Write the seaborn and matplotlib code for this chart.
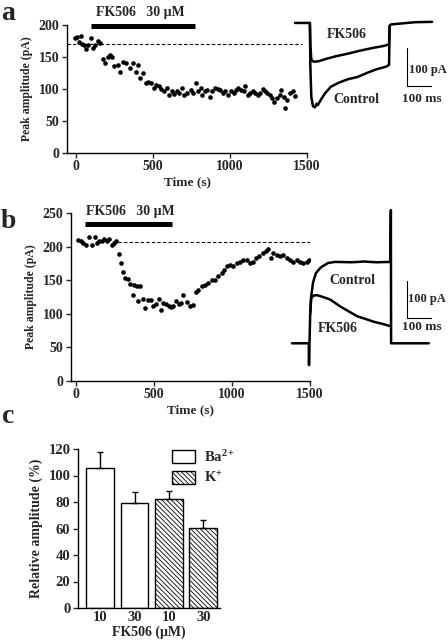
import numpy as np
import pandas as pd
import seaborn as sns
import matplotlib
matplotlib.use('Agg')
import matplotlib.pyplot as plt
from matplotlib.patches import Patch

sns.set_style("ticks")
plt.rcParams['font.family'] = ['Liberation Serif', 'DejaVu Serif']
plt.rcParams['font.weight'] = 'bold'
plt.rcParams['axes.labelweight'] = 'bold'
plt.rcParams['mathtext.fontset'] = 'custom'
plt.rcParams['mathtext.rm'] = 'Liberation Serif:bold'
plt.rcParams['mathtext.bf'] = 'Liberation Serif:bold'
plt.rcParams['mathtext.it'] = 'Liberation Serif:bold:italic'
plt.rcParams['hatch.linewidth'] = 0.6

# ---- panel a: peak amplitude vs time ----
a_time = [-8, 4, 17, 33, 39, 54, 65, 76, 98, 109, 126, 141, 157,
          174, 191, 207, 224, 235, 250, 272, 288, 305, 327, 349, 370, 388, 403,
          418, 435, 452, 468, 490, 505, 523, 540, 555, 571, 588, 606, 621, 636,
          654, 671, 686, 702, 724, 745, 762, 778, 793, 810, 821, 836, 854, 871,
          886, 902, 919, 937, 952, 967, 985, 1007, 1024, 1039, 1054, 1072, 1089,
          1100, 1115, 1133, 1148, 1163, 1181, 1198, 1213, 1228, 1241, 1257, 1272,
          1289, 1307, 1322, 1333, 1350, 1359, 1372, 1387, 1409, 1420]
a_amp = [179, 181, 174, 183, 171, 169, 162, 168, 179, 164, 168, 175, 172,
         146, 141, 150, 153, 150, 136, 137, 127, 142, 141, 132, 141, 127, 137,
         117, 125, 109, 111, 109, 101, 106, 104, 99, 96, 101, 90, 96, 92,
         96, 94, 101, 90, 93, 98, 93, 109, 96, 101, 90, 96, 98, 88,
         96, 101, 100, 98, 93, 96, 90, 96, 93, 98, 101, 98, 96,
         105, 90, 93, 96, 93, 90, 94, 100, 96, 93, 90, 85,
         80, 85, 90, 98, 88, 70, 82, 93, 96, 89]

# ---- panel b: peak amplitude vs time ----
b_time = [11, 32, 47, 62, 81, 103, 124, 132, 150, 167, 182, 197, 214, 231, 246, 256,
          273, 288, 303, 316, 331, 348, 363, 374, 391, 395, 410, 427, 444, 459,
          481, 496, 513, 530, 545, 560, 577, 594, 609, 624, 641, 658, 673, 688,
          709, 731, 748, 769, 784, 806, 827, 849, 870, 891, 913, 934, 949, 966,
          988, 1009, 1030, 1052, 1073, 1094, 1116, 1137, 1154, 1175, 1197, 1218,
          1233, 1248, 1265, 1287, 1308, 1329, 1351, 1372, 1394, 1415, 1436, 1458,
          1479, 1495]
b_amp = [210, 209, 205, 203, 215, 202, 214, 206, 208, 209, 211, 209, 211, 203, 206, 208,
         189, 176, 163, 153, 152, 144, 128, 143, 142, 119, 141, 122, 108, 121,
         121, 112, 115, 122, 106, 116, 114, 112, 110, 112, 119, 114, 116, 128,
         118, 111, 113, 133, 135, 141, 143, 146, 151, 151, 156, 161, 166, 171,
         173, 171, 176, 178, 181, 180, 176, 178, 183, 186, 191, 193,
         197, 183, 191, 188, 186, 188, 183, 181, 178, 181, 178, 176,
         178, 181]

# ---- inset current traces (ms, pA) ----
ta_ctrl = [0, 62, 64, 68, 75, 83, 90, 95, 110, 125, 150, 180, 220, 260, 300, 340, 380, 392, 394, 400, 450, 500, 571]
ia_ctrl = [0, 0, -120, -200, -225, -228, -218, -222, -205, -190, -172, -162, -152, -146, -135, -125, -118, -113, -8, -4, -1, 2, 3]
ta_fk = [62, 64, 68, 80, 100, 130, 170, 220, 270, 320, 370, 392, 394]
ia_fk = [0, -60, -100, -105, -103, -97, -90, -83, -75, -68, -62, -58, -8]

tb_ctrl = [0, 70, 71, 73, 76, 80, 88, 100, 120, 150, 180, 250, 300, 350, 410, 412, 413, 570]
ib_ctrl = [0, 0, -59, 0, 80, 126, 165, 190, 205, 217, 220, 219, 221, 219, 220, 360, 0, 0]
tb_fk = [76, 80, 90, 105, 130, 160, 200, 240, 272, 310, 342, 380, 407, 412]
ib_fk = [80, 122, 129, 130, 125, 118, 100, 85, 73, 65, 58, 52, 47, 46]

# ---- panel c: relative amplitude ----
c_cond = ['Ba 10', 'Ba 30', 'K 10', 'K 30']
c_ticklabels = ['10', '30', '10', '30']
c_amp = [106, 79, 82, 60.5]
c_err = [12, 8.3, 6.3, 6]

W, H = 448, 640
fig = plt.figure(figsize=(W / 100, H / 100), dpi=100)


def px_axes(x0, y0, x1, y1):
    return fig.add_axes([x0 / W, 1 - y1 / H, (x1 - x0) / W, (y1 - y0) / H])


def style(ax):
    sns.despine(ax=ax)
    ax.tick_params(direction='out', length=3.5, width=1, labelsize=10, pad=2)
    for s in ['left', 'bottom']:
        ax.spines[s].set_linewidth(1)
        ax.spines[s].set_color('k')


# panel a
axa = px_axes(67, 25, 307, 152.7)
sns.scatterplot(x=a_time, y=a_amp, ax=axa, color='k', s=11, linewidth=0)
axa.hlines(170, -58, 1470, colors='k', linestyles=(0, (3, 2)), lw=0.8)
axa.plot([96, 773], [199, 199], color='k', lw=3.6, solid_capstyle='butt', clip_on=False)
axa.text(416, 219, 'FK506   30 μM', ha='center', va='center', fontsize=10)
axa.set_xlim(-58, 1500)
axa.set_ylim(0, 200)
axa.set_xticks([0, 500, 1000, 1500])
axa.set_yticks([0, 50, 100, 150, 200])
axa.set_xlabel('Time (s)', fontsize=9.5, labelpad=2)
axa.set_ylabel('Peak amplitude (pA)', fontsize=8.5, labelpad=4)
style(axa)

# panel b
axb = px_axes(71, 213.3, 310, 380.7)
sns.scatterplot(x=b_time, y=b_amp, ax=axb, color='k', s=11, linewidth=0)
axb.hlines(207, 270, 1500, colors='k', linestyles=(0, (3, 2)), lw=0.8)
axb.plot([58, 613], [234.6, 234.6], color='k', lw=3.6, solid_capstyle='butt', clip_on=False)
axb.text(346, 253, 'FK506   30 μM', ha='center', va='center', fontsize=10)
axb.set_xlim(-32, 1500)
axb.set_ylim(0, 250)
axb.set_xticks([0, 500, 1000, 1500])
axb.set_yticks([0, 50, 100, 150, 200, 250])
axb.set_xlabel('Time (s)', fontsize=9.5, labelpad=2)
axb.set_ylabel('Peak amplitude (pA)', fontsize=8.5, labelpad=4)
style(axb)

# inset a traces
ia = px_axes(285, 10, 445, 115)
sns.lineplot(x=ta_ctrl, y=ia_ctrl, ax=ia, color='k', lw=1.8, sort=False, estimator=None)
sns.lineplot(x=ta_fk, y=ia_fk, ax=ia, color='k', lw=1.8, sort=False, estimator=None)
ia.set_xlim(-41.7, 625)
ia.set_ylim(-248.6, 35)
ia.plot([467, 467, 567], [-67.6, -169, -169], color='k', lw=0.8)
ia.text(217, -32, 'FK506', ha='center', va='center', fontsize=10)
ia.text(256, -208, 'Control', ha='center', va='center', fontsize=10)
ia.text(474, -127, '100 pA', ha='left', va='center', fontsize=9)
ia.text(527, -205, '100 ms', ha='center', va='center', fontsize=9.5)
ia.axis('off')

# inset b traces
ib = px_axes(285, 205, 445, 375)
sns.lineplot(x=tb_ctrl, y=ib_ctrl, ax=ib, color='k', lw=1.8, sort=False, estimator=None)
sns.lineplot(x=tb_fk, y=ib_fk, ax=ib, color='k', lw=1.8, sort=False, estimator=None)
ib.set_xlim(-29, 637.5)
ib.set_ylim(-85.7, 373.8)
ib.plot([479, 479, 579], [168, 67.6, 67.6], color='k', lw=0.8)
ib.text(250, 171, 'Control', ha='center', va='center', fontsize=10)
ib.text(190, 40.5, 'FK506', ha='center', va='center', fontsize=10)
ib.text(484, 119, '100 pA', ha='left', va='center', fontsize=9)
ib.text(542, 45, '100 ms', ha='center', va='center', fontsize=9.5)
ib.axis('off')

# panel c
axc = px_axes(78, 449, 220, 608)
dfc = pd.DataFrame({'cond': c_cond, 'amp': c_amp})
sns.barplot(data=dfc, x='cond', y='amp', ax=axc, color='white', edgecolor='k',
            linewidth=1, width=0.81, errorbar=None, saturation=1)
for i, p in enumerate(axc.patches[:4]):
    p.set_facecolor('white')
    if i >= 2:
        p.set_hatch('\\' * 7)
axc.errorbar(range(4), c_amp, yerr=[np.zeros(4), c_err], fmt='none', ecolor='k',
             elinewidth=1, capsize=2.5, capthick=1)
axc.set_xlim(-0.64, 3.48)
axc.set_ylim(0, 120)
axc.set_yticks(range(0, 121, 20))
axc.set_xticks(range(4))
axc.set_xticklabels(c_ticklabels)
axc.set_xlabel('FK506 (μM)', fontsize=10, labelpad=1)
axc.set_ylabel('Relative amplitude (%)', fontsize=10, labelpad=4)
style(axc)
axc.tick_params(axis='x', length=0, labelsize=10.5)
axc.tick_params(axis='y', labelsize=10.5)
handles = [Patch(facecolor='white', edgecolor='k', lw=1, label='Ba$^{2+}$'),
           Patch(facecolor='white', edgecolor='k', lw=1, hatch='\\' * 7, label='K$^{+}$')]
axc.legend(handles=handles, loc='upper left', bbox_to_anchor=(0.66, 1.0), frameon=False,
           fontsize=10.5, handlelength=1.6, handleheight=1.0, handletextpad=0.6,
           labelspacing=0.4, borderpad=0, borderaxespad=0)

# panel letters
fig.text(1 / W, 1 - 19.5 / H, 'a', fontsize=20, fontweight='bold', va='baseline')
fig.text(1 / W, 1 - 228 / H, 'b', fontsize=20, fontweight='bold', va='baseline')
fig.text(2 / W, 1 - 423 / H, 'c', fontsize=20, fontweight='bold', va='baseline')

fig.savefig('out.png', dpi=100)
